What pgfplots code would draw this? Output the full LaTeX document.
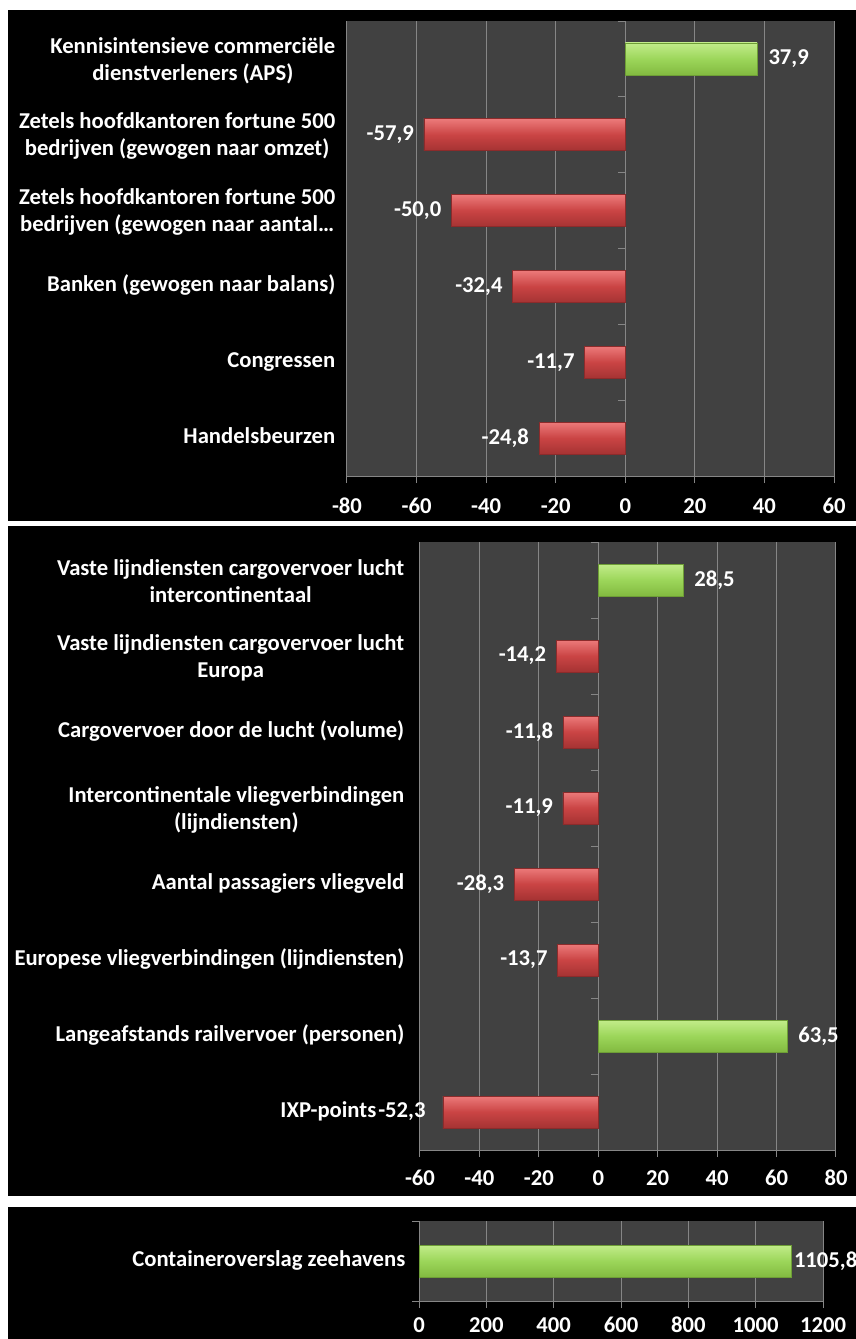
\documentclass[border=0pt]{standalone}
\usepackage{pgfplots}
\pgfplotsset{compat=1.18}
\usepackage{fontspec}
\setmainfont{Carlito}
\definecolor{plotbg}{HTML}{414141}
\definecolor{gridc}{HTML}{868686}
\definecolor{gtop}{HTML}{C2EC8A}
\definecolor{gmid}{HTML}{9CD65A}
\definecolor{gbot}{HTML}{82BA40}
\definecolor{rtop}{HTML}{EC7A7A}
\definecolor{rmid}{HTML}{CA4444}
\definecolor{rbot}{HTML}{A53333}
\newcommand{\lblfont}{\fontsize{17}{20.25}\bfseries\selectfont}
\pgfplotsset{
  panel/.style={
    scale only axis, anchor=north west, clip=false,
    axis background/.style={fill=plotbg},
    axis x line*=bottom, axis y line*=left,
    y axis line style={draw=none},
    x axis line style={draw=gridc, line width=0.75pt},
    ytick style={draw=none},
    xtick style={draw=gridc, line width=0.75pt},
    tick align=outside, major tick length=5.25pt,
    xmajorgrids, major grid style={draw=gridc, line width=0.75pt},
    typeset ticklabels with strut,
    xticklabel style={font=\lblfont, text=white, yshift=-4pt},
    yticklabel style={font=\lblfont, text=white, align=center},
    /pgf/number format/assume math mode=true,
    /pgf/number format/1000 sep={},
    y dir=reverse, scaled x ticks=false,
  },
  valnum/.style={
    point meta=x,
    nodes near coords={\pgfmathprintnumber[fixed,fixed zerofill,precision=1,use comma,1000 sep={},assume math mode=true]{\pgfplotspointmeta}},
  },
  posbar/.style={xbar, bar shift=0pt, bar width=24pt, draw=gbot!85!black, line width=0.4pt,
    top color=gtop, bottom color=gbot, middle color=gmid, valnum,
    every node near coord/.append style={anchor=west, font=\lblfont, text=white, xshift=5pt}},
  negbar/.style={xbar, bar shift=0pt, bar width=24pt, draw=rbot!85!black, line width=0.4pt,
    top color=rtop, bottom color=rbot, middle color=rmid, valnum,
    every node near coord/.append style={anchor=east, font=\lblfont, text=white, xshift=-4pt}},
}
\begin{document}
\begin{tikzpicture}
\path[use as bounding box, fill=white] (0,0) rectangle (642pt,-1004.25pt);
\fill[black] (6pt,-7.5pt) rectangle (642pt,-390.75pt);
\fill[black] (6pt,-394.5pt) rectangle (642pt,-897pt);
\fill[black] (6pt,-905.25pt) rectangle (642pt,-1004.25pt);

% Panel 1
\begin{axis}[panel,
  at={(260.25pt,-15.75pt)}, width=365.25pt, height=341.25pt,
  xmin=-80, xmax=60, xtick={-80,-60,...,60},
  xticklabel style={yshift=-1.5pt},
  ymin=-0.5, ymax=5.5, ytick={0,...,5},
  yticklabels={{Kennisintensieve commerciële\\dienstverleners (APS)},
    {Zetels hoofdkantoren fortune 500\\bedrijven (gewogen naar omzet)},
    {Zetels hoofdkantoren fortune 500\\bedrijven (gewogen naar aantal…},
    {Banken (gewogen naar balans)},{Congressen},{Handelsbeurzen}},
]
\addplot[posbar] coordinates {(37.9,0)};
\addplot[negbar] coordinates {(-57.9,1)};
\addplot[negbar] coordinates {(-50.0,2)};
\addplot[negbar] coordinates {(-32.4,3)};
\addplot[negbar] coordinates {(-11.7,4)};
\addplot[negbar] coordinates {(-24.8,5)};
\pgfplotsinvokeforeach{-0.5,0.5,1.5,2.5,3.5,4.5,5.5}{\draw[gridc, line width=0.75pt] (axis cs:0,#1) -- ++(-5.25pt,0pt);}
\end{axis}

% Panel 2
\begin{axis}[panel,
  at={(315pt,-406.5pt)}, width=312pt, height=456pt,
  xmin=-60, xmax=80, xtick={-60,-40,...,80},
  ymin=-0.5, ymax=7.5, ytick={0,...,7},
  yticklabel style={xshift=-3pt},
  yticklabels={{Vaste lijndiensten cargovervoer lucht\\intercontinentaal},
    {Vaste lijndiensten cargovervoer lucht\\Europa},
    {Cargovervoer door de lucht (volume)},
    {Intercontinentale vliegverbindingen\\(lijndiensten)},
    {Aantal passagiers vliegveld},
    {Europese vliegverbindingen (lijndiensten)},
    {Langeafstands railvervoer (personen)},
    {IXP-points\hspace*{21pt}}},
]
\addplot[posbar] coordinates {(28.5,0)};
\addplot[negbar] coordinates {(-14.2,1)};
\addplot[negbar] coordinates {(-11.8,2)};
\addplot[negbar] coordinates {(-11.9,3)};
\addplot[negbar] coordinates {(-28.3,4)};
\addplot[negbar] coordinates {(-13.7,5)};
\addplot[posbar] coordinates {(63.5,6)};
\addplot[negbar, every node near coord/.append style={xshift=-5.5pt}] coordinates {(-52.3,7)};
\pgfplotsinvokeforeach{-0.5,0.5,1.5,2.5,3.5,4.5,5.5,6.5,7.5}{\draw[gridc, line width=0.75pt] (axis cs:0,#1) -- ++(-5.25pt,0pt);}
\end{axis}

% Panel 3
\begin{axis}[panel,
  at={(314.25pt,-915.75pt)}, width=303pt, height=60pt,
  xmin=0, xmax=1200, xtick={0,200,...,1200},
  xticklabel style={yshift=3pt},
  ymin=-0.5, ymax=0.5, ytick={0},
  yticklabel style={xshift=-1.5pt},
  yticklabels={{Containeroverslag zeehavens}},
]
\addplot[posbar, every node near coord/.append style={xshift=-6.5pt}] coordinates {(1105.8,0)};
\pgfplotsinvokeforeach{-0.5,0.5}{\draw[gridc, line width=0.75pt] (axis cs:0,#1) -- ++(-5.25pt,0pt);}
\end{axis}
\end{tikzpicture}
\end{document}
